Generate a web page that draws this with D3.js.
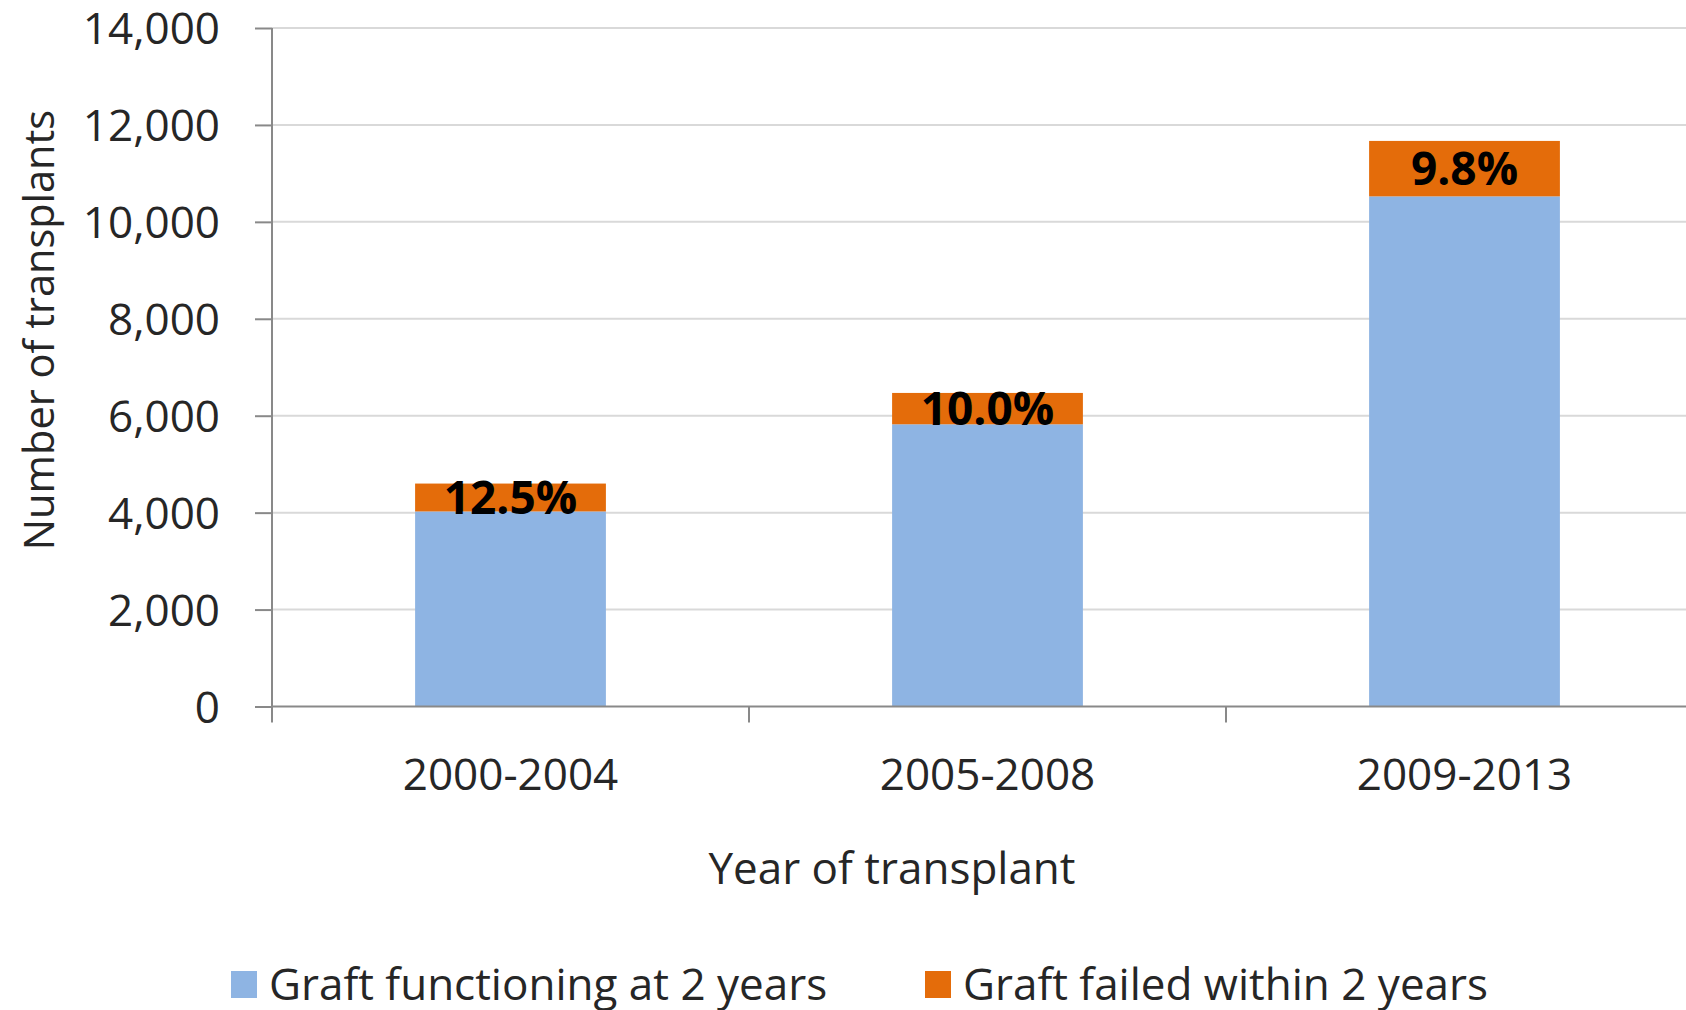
<!DOCTYPE html>
<html>
<head>
<meta charset="utf-8">
<script src="https://cdn.jsdelivr.net/npm/d3@7"></script>
<style>
  body { margin: 0; background: #fff; }
  svg { display: block; font-family: "Open Sans", sans-serif; }
</style>
</head>
<body>
<svg id="chart" width="1686" height="1010"></svg>
<script>
// data
var categories = ["2000-2004", "2005-2008", "2009-2013"];
var functioning = [4025, 5823, 10526];
var failed = [575, 647, 1144];
var failedPct = ["12.5%", "10.0%", "9.8%"];
var seriesNames = ["Graft functioning at 2 years", "Graft failed within 2 years"];
var yTicks = [0, 2000, 4000, 6000, 8000, 10000, 12000, 14000];

var colors = ["#8eb4e3", "#e46c0a"];

var svg = d3.select("#chart");
var plotLeft = 272, plotTop = 28, plotBottom = 706.5;
var band = 477;

var x = d3.scaleBand()
  .domain(categories)
  .range([plotLeft, plotLeft + band * categories.length])
  .paddingInner(0.6)
  .paddingOuter(0.3);

var y = d3.scaleLinear().domain([0, 14000]).range([plotBottom, plotTop]);

// gridlines
svg.append("g")
  .selectAll("line")
  .data(yTicks.slice(1))
  .enter().append("line")
  .attr("x1", plotLeft).attr("x2", 1686)
  .attr("y1", function(d) { return y(d); })
  .attr("y2", function(d) { return y(d); })
  .attr("stroke", "#d9d9d9")
  .attr("stroke-width", 2);

// bars
var rows = categories.map(function(c, i) {
  return { cat: c, a: functioning[i], b: failed[i], pct: failedPct[i] };
});

svg.append("g").selectAll("rect")
  .data(rows).enter().append("rect")
  .attr("x", function(d) { return x(d.cat); })
  .attr("width", x.bandwidth())
  .attr("y", function(d) { return y(d.a); })
  .attr("height", function(d) { return y(0) - y(d.a); })
  .attr("fill", colors[0]);

svg.append("g").selectAll("rect")
  .data(rows).enter().append("rect")
  .attr("x", function(d) { return x(d.cat); })
  .attr("width", x.bandwidth())
  .attr("y", function(d) { return y(d.a + d.b); })
  .attr("height", function(d) { return y(d.a) - y(d.a + d.b); })
  .attr("fill", colors[1]);

// y axis
var yAxis = d3.axisLeft(y)
  .tickValues(yTicks)
  .tickSize(17)
  .tickPadding(35)
  .tickFormat(d3.format(","));

var gy = svg.append("g")
  .attr("transform", "translate(" + plotLeft + ",0)")
  .call(yAxis)
  .attr("font-family", null)
  .attr("font-size", null);
gy.select(".domain").remove();
gy.append("line")
  .attr("x1", 0).attr("x2", 0)
  .attr("y1", plotTop).attr("y2", plotBottom + 16)
  .attr("stroke", "#898989").attr("stroke-width", 2);
gy.selectAll(".tick line").attr("stroke", "#898989").attr("stroke-width", 2);
gy.selectAll(".tick text")
  .attr("fill", "#262626")
  .style("font-size", "44px")
  .attr("dy", "0.36em");

// x axis
var gx = svg.append("g")
  .attr("transform", "translate(0," + plotBottom + ")");
gx.append("line")
  .attr("x1", plotLeft).attr("x2", 1686)
  .attr("stroke", "#898989").attr("stroke-width", 2);
gx.selectAll(".sep")
  .data(categories.slice(1)).enter().append("line")
  .attr("class", "sep")
  .attr("x1", function(d) { return x(d) - x.step() * x.paddingInner() / 2; })
  .attr("x2", function(d) { return x(d) - x.step() * x.paddingInner() / 2; })
  .attr("y1", 0).attr("y2", 16)
  .attr("stroke", "#898989").attr("stroke-width", 2);
gx.selectAll("text")
  .data(categories).enter().append("text")
  .attr("x", function(d) { return x(d) + x.bandwidth() / 2; })
  .attr("y", 83)
  .attr("text-anchor", "middle")
  .attr("fill", "#262626")
  .style("font-size", "44px")
  .text(function(d) { return d; });

// data labels
svg.append("g").selectAll("text")
  .data(rows).enter().append("text")
  .attr("x", function(d) { return x(d.cat) + x.bandwidth() / 2; })
  .attr("y", function(d) { return (y(d.a) + y(d.a + d.b)) / 2; })
  .attr("dy", "0.36em")
  .attr("text-anchor", "middle")
  .attr("fill", "#000")
  .style("font-size", "46px")
  .style("font-weight", "bold")
  .text(function(d) { return d.pct; });

// axis titles
svg.append("text")
  .attr("x", 892).attr("y", 884)
  .attr("text-anchor", "middle")
  .attr("fill", "#262626")
  .style("font-size", "44px")
  .text("Year of transplant");

svg.append("text")
  .attr("transform", "translate(54,330) rotate(-90)")
  .attr("text-anchor", "middle")
  .attr("fill", "#262626")
  .style("font-size", "41.5px")
  .text("Number of transplants");

// legend
var legendX = [231, 925];
var lg = svg.append("g").selectAll("g")
  .data(seriesNames).enter().append("g")
  .attr("transform", function(d, i) { return "translate(" + legendX[i] + ",971)"; });
lg.append("rect")
  .attr("width", 26).attr("height", 27)
  .attr("fill", function(d, i) { return colors[i]; });
lg.append("text")
  .attr("x", 38).attr("y", 13.5)
  .attr("dy", "0.36em")
  .attr("fill", "#262626")
  .style("font-size", "44px")
  .text(function(d) { return d; });
</script>
</body>
</html>
